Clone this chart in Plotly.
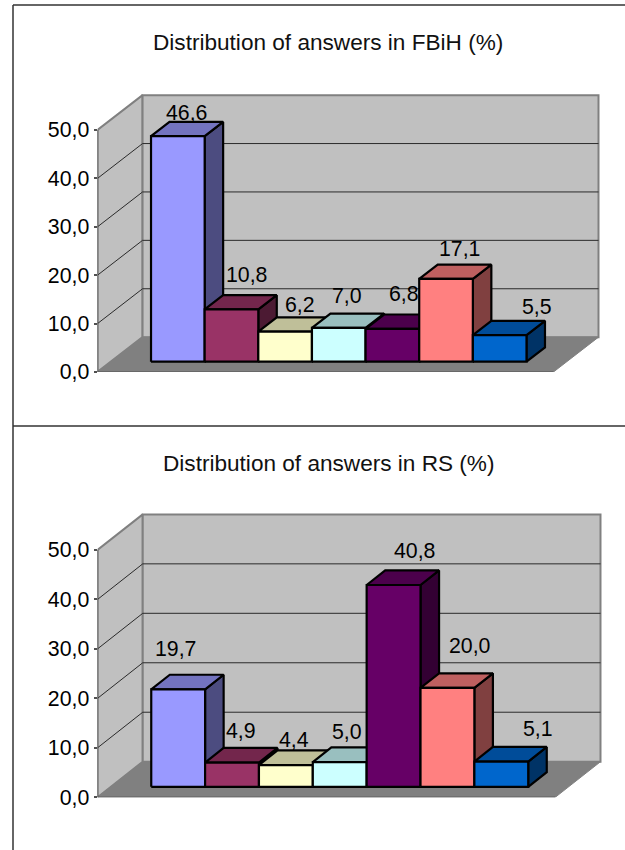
import plotly.graph_objects as go

# ---- data ----
fbih_title = "Distribution of answers in FBiH (%)"
rs_title = "Distribution of answers in RS (%)"
fbih_values = [46.6, 10.8, 6.2, 7.0, 6.8, 17.1, 5.5]
rs_values = [19.7, 4.9, 4.4, 5.0, 40.8, 20.0, 5.1]
tick_values = [0, 10, 20, 30, 40, 50]
tick_labels = ["0,0", "10,0", "20,0", "30,0", "40,0", "50,0"]

# ---- styles ----
front_colors = ["#9999ff", "#993366", "#ffffcc", "#ccffff", "#660066", "#ff8080", "#0066cc"]

# hand placement of the value labels (px relative to the top of each bar)
fbih_label_dx = [-1, 6, 5.6, -1.4, 2.2, 4.5, 27.8]
fbih_label_dy = [9.2, 20.4, 12, 17.8, 20.8, 15.9, 14.1]
rs_label_dx = [-12.1, 0, -0.9, -2.1, 11.3, 13.4, 27.2]
rs_label_dy = [25.3, 16.8, 10.2, 15.3, 19.2, 26.8, 17.5]

# ---- oblique projection parameters (data units) ----
W, H = 625, 850
FLOOR_LEN = 8.5      # floor length in bar widths
GAP = 0.75           # free floor before the first bar
DEPTH_X = 0.84       # horizontal shift of the full floor depth
DEPTH_Y = 7.2        # vertical shift of the full floor depth
BAR_Z0 = 0.295       # bar front, as a fraction of the depth
BAR_DZ = 0.41        # bar depth, as a fraction of the depth
X_MAX = 9.6
Y_MAX = 58.5
FONT = "Liberation Sans, Arial, sans-serif"


def shade(hex_color, k):
    r, g, b = (int(hex_color[i:i + 2], 16) for i in (1, 3, 5))
    return f"rgb({round(r * k)},{round(g * k)},{round(b * k)})"


def poly(pts, fill, xa, ya, line_color, line_width):
    return go.Scatter(
        x=[p[0] for p in pts] + [pts[0][0]],
        y=[p[1] for p in pts] + [pts[0][1]],
        mode="lines", fill="toself", fillcolor=fill,
        line=dict(color=line_color, width=line_width, simplify=False),
        xaxis=xa, yaxis=ya, showlegend=False, hoverinfo="skip", cliponaxis=False,
    )


def seg(pts, xa, ya, color, width):
    return go.Scatter(
        x=[p[0] for p in pts], y=[p[1] for p in pts], mode="lines",
        line=dict(color=color, width=width), xaxis=xa, yaxis=ya,
        showlegend=False, hoverinfo="skip", cliponaxis=False,
    )


def panel(values, xa, ya, label_dx, label_dy):
    t = []
    top, dx, dy = tick_values[-1], DEPTH_X, DEPTH_Y
    L = FLOOR_LEN
    t.append(poly([(0, 0), (dx, dy), (dx, top + dy), (0, top)], "#c0c0c0", xa, ya, "#808080", 2))
    t.append(poly([(dx, dy), (L + dx, dy), (L + dx, top + dy), (dx, top + dy)], "#c0c0c0", xa, ya, "#808080", 2))
    t.append(poly([(0, 0), (L, 0), (L + dx, dy), (dx, dy)], "#808080", xa, ya, "#808080", 1))
    for v in tick_values[1:-1]:
        t.append(seg([(0, v), (dx, v + dy), (L + dx, v + dy)], xa, ya, "#2a2a2a", 1))
    t.append(seg([(0, 0), (0, top)], xa, ya, "#505050", 1.5))
    t.append(seg([(0, 0), (L, 0)], xa, ya, "#606060", 1.5))

    notes = []
    for i, v in enumerate(values):
        c = front_colors[i]
        xl = GAP + i + BAR_Z0 * dx
        xr = xl + 1
        sx, sy = BAR_DZ * dx, BAR_DZ * dy
        y0 = BAR_Z0 * dy
        y1 = y0 + v
        t.append(poly([(xr, y0), (xr + sx, y0 + sy), (xr + sx, y1 + sy), (xr, y1)], shade(c, 0.5), xa, ya, "black", 2.2))
        t.append(poly([(xl, y1), (xr, y1), (xr + sx, y1 + sy), (xl + sx, y1 + sy)], shade(c, 0.75), xa, ya, "black", 2.2))
        t.append(poly([(xl, y0), (xr, y0), (xr, y1), (xl, y1)], c, xa, ya, "black", 2.2))
        notes.append(dict(
            x=xl + 0.5 + sx / 2, y=y1 + sy, xref=xa, yref=ya, showarrow=False,
            text=f"{v:.1f}".replace(".", ","), xanchor="center", yanchor="middle",
            xshift=label_dx[i], yshift=label_dy[i],
            font=dict(family=FONT, size=21.3, color="black"),
        ))
    return t, notes


def x_domain(x0, x_right):
    # x_right is the pixel of the back-right wall corner
    px = (x_right - x0) / (FLOOR_LEN + DEPTH_X)
    return [x0 / W, (x0 + px * X_MAX) / W]


def y_domain(y_zero, y_fifty):
    px = (y_zero - y_fifty) / tick_values[-1]
    return [1 - y_zero / H, 1 - (y_zero - px * Y_MAX) / H]


def axes(xd, yd):
    xa = dict(domain=xd, range=[0, X_MAX], visible=False, fixedrange=True, automargin=False)
    ya = dict(domain=yd, range=[0, Y_MAX], showgrid=False, zeroline=False, showline=False,
              automargin=False,
              tickmode="array", tickvals=tick_values, ticktext=tick_labels,
              ticks="outside", ticklen=3, tickwidth=1.5, tickcolor="#505050",
              tickfont=dict(family=FONT, size=21.3, color="black"), fixedrange=True)
    return xa, ya


t1, n1 = panel(fbih_values, "x", "y", fbih_label_dx, fbih_label_dy)
t2, n2 = panel(rs_values, "x2", "y2", rs_label_dx, rs_label_dy)
xa1, ya1 = axes(x_domain(97.5, 598.5), y_domain(372, 130))
xa2, ya2 = axes(x_domain(97.5, 600.5), y_domain(797.3, 550))
ya1["anchor"] = "x"
ya2["anchor"] = "x2"
xa1["anchor"] = "y"
xa2["anchor"] = "y2"


def title(text, cx, cy):
    return dict(x=cx / W, y=1 - cy / H, xref="paper", yref="paper", text=text, showarrow=False,
                xanchor="center", yanchor="middle",
                font=dict(family=FONT, size=22.6, color="#111111"))


def frame(x0, y0, x1, y1):
    return dict(type="line", xref="paper", yref="paper", x0=x0 / W, x1=x1 / W,
                y0=1 - y0 / H, y1=1 - y1 / H, line=dict(color="#333333", width=1.5))


fig = go.Figure(data=t1 + t2)
fig.update_layout(
    width=W, height=H, autosize=False,
    margin=dict(l=0, r=0, t=0, b=0),
    paper_bgcolor="white", plot_bgcolor="rgba(0,0,0,0)",
    xaxis=xa1, yaxis=ya1, xaxis2=xa2, yaxis2=ya2,
    annotations=n1 + n2 + [title(fbih_title, 327.7, 42), title(rs_title, 328.5, 463)],
    shapes=[frame(13, 5, 625, 5), frame(13, 5, 13, 850), frame(13, 426, 625, 426)],
)
fig.write_html("out.html", config={"displayModeBar": False},
               post_script='document.body.style.margin="0";document.documentElement.style.overflow="hidden";')
